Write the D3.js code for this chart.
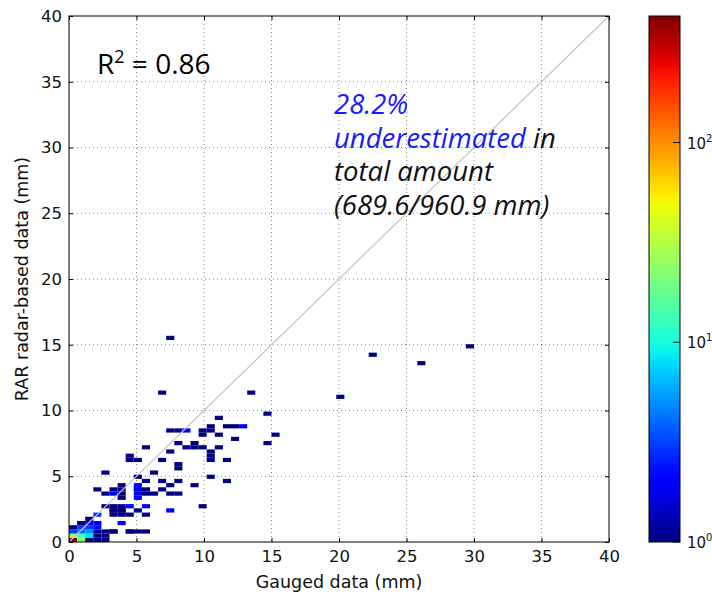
<!DOCTYPE html>
<html><head><meta charset="utf-8">
<script src="https://cdn.jsdelivr.net/npm/d3@7"></script>
<style>body{margin:0;background:#fff}</style>
</head><body>
<script>
// ---- data ----
const xTicks = [0,5,10,15,20,25,30,35,40];
const yTicks = [0,5,10,15,20,25,30,35,40];
const cbarTicks = [1,10,100];
const binW = 0.6, binH = 0.32;   // histogram bin size (mm)
const countMax = 430;
// cells: [gauged mm, radar mm, count]
const cells = [
 [0.3,0.15,430],[0.9,0.15,22],[1.5,0.15,1],[2.1,0.15,1],
 [0.3,0.45,25],[0.9,0.45,14],[1.5,0.45,8],[2.1,0.45,1],
 [0.3,0.8,3],[0.9,0.8,4],[1.5,0.8,5],[2.1,0.8,1],
 [0.3,1.1,1],[0.9,1.1,3],[1.5,1.1,3],[2.1,1.1,2],
 [0.9,1.4,1],[1.5,1.4,2],[2.1,1.4,2],
 [1.5,1.7,1],[2.1,1.95,3],
 [2.7,0.8,1],[2.7,0.45,1],[2.7,0.15,1],
 [3.3,0.95,1],[3.3,0.65,1],[3.9,1.3,2],
 [4.5,0.95,1],[5.1,0.95,1],[4.5,0.65,1],[5.7,0.65,1],
 [3.3,1.95,1],[3.9,1.95,1],[4.5,1.95,1],[5.7,1.95,1],
 [3.3,2.25,1],[3.9,2.25,1],[7.5,2.25,2],
 [3.3,2.55,1],[3.9,2.55,1],[5.1,2.55,1],
 [2.7,2.85,1],[3.3,2.85,1],[3.9,2.85,1],[4.5,2.85,2],[5.7,2.85,2],[9.8,2.85,1],
 [3.9,3.2,1],[5.1,3.2,2],
 [2.7,3.55,1],[3.3,3.55,2],[3.9,3.55,1],[5.1,3.55,2],[5.7,3.55,1],[6.3,3.55,1],[7.5,3.55,1],[8.1,3.55,1],
 [2.1,3.85,1],[3.3,3.85,1],[3.9,3.85,1],[5.1,3.85,2],[6.9,3.85,1],
 [5.1,4.15,2],[5.7,4.15,1],
 [3.9,4.45,1],[5.1,4.45,2],[7.5,4.45,1],[9.3,4.45,1],
 [5.7,4.75,1],[6.9,4.75,1],[8.1,4.75,1],[11.7,4.75,1],
 [5.1,5.05,1],[10.5,5.05,1],
 [2.7,5.4,1],[6.3,5.4,1],
 [8.1,5.6,1],[8.1,5.9,1],
 [6.9,6.1,1],[10.5,6.1,1],[11.7,6.1,1],
 [4.5,6.25,1],[5.1,6.25,1],[10.5,6.4,1],[4.5,6.55,1],[10.5,6.75,1],
 [7.5,6.9,1],[5.7,7.05,1],[9.3,7.05,1],
 [8.7,7.35,1],[9.8,7.35,1],[11.1,7.35,1],
 [8.1,7.65,1],[9.3,7.65,1],[14.5,7.65,1],
 [12.2,7.95,1],
 [9.8,8.25,1],[11.1,8.25,1],[15.1,8.25,1],
 [7.5,8.55,1],[8.1,8.55,1],[8.7,8.55,2],[9.8,8.55,1],[10.4,8.55,1],
 [10.4,8.85,1],[11.7,8.85,1],[12.3,8.85,1],[12.9,8.85,2],
 [11.05,9.55,1],[14.5,9.85,1],
 [6.9,11.45,1],[13.4,11.45,1],[19.9,10.9,1],
 [25.8,13.5,1],[22.2,14.1,1],[29.4,14.75,1],[7.5,15.65,1]
];
const r2Text = "0.86";
const noteLines = [["28.2%", null],["underestimated", " in"],[null,"total amount"],[null,"(689.6/960.9 mm)"]];

// ---- layout ----
const W = 712, H = 595;
const m = {l:69, r:609, t:16, b:542};
const svg = d3.select("body").append("svg").attr("width",W).attr("height",H)
  .style("font-family","'DejaVu Sans', sans-serif");

const x = d3.scaleLinear().domain([0,40]).range([m.l,m.r]);
const y = d3.scaleLinear().domain([0,40]).range([m.b,m.t]);

// jet colormap
const jr = d3.scaleLinear().domain([0,0.35,0.66,0.89,1]).range([0,0,1,1,0.5]).clamp(true);
const jg = d3.scaleLinear().domain([0,0.125,0.375,0.64,0.91,1]).range([0,0,1,1,0,0]).clamp(true);
const jb = d3.scaleLinear().domain([0,0.11,0.34,0.65,1]).range([0.5,1,1,0,0]).clamp(true);
const jet = t => d3.rgb(jr(t)*255, jg(t)*255, jb(t)*255).toString();
const norm = d3.scaleLog().domain([1,countMax]).range([0,1]).clamp(true);

// grid
const g = svg.append("g");
g.selectAll(".gx").data(xTicks.slice(1,-1)).enter().append("line")
  .attr("x1",d=>x(d)).attr("x2",d=>x(d)).attr("y1",m.t).attr("y2",m.b)
  .attr("stroke","#000").attr("stroke-width",0.6).attr("stroke-dasharray","1,3").attr("opacity",0.8);
g.selectAll(".gy").data(yTicks.slice(1,-1)).enter().append("line")
  .attr("y1",d=>y(d)).attr("y2",d=>y(d)).attr("x1",m.l).attr("x2",m.r)
  .attr("stroke","#000").attr("stroke-width",0.6).attr("stroke-dasharray","1,3").attr("opacity",0.8);

// cells
svg.append("g").selectAll("rect").data(cells).enter().append("rect")
  .attr("x",d=>x(Math.floor(d[0]/binW)*binW))
  .attr("y",d=>y((Math.floor(d[1]/binH)+1)*binH))
  .attr("width",d=>x(binW)-x(0))
  .attr("height",d=>y(0)-y(binH))
  .attr("fill",d=>jet(norm(d[2])));

// 1:1 line
svg.append("line").attr("x1",x(0)).attr("y1",y(0)).attr("x2",x(40)).attr("y2",y(40))
  .attr("stroke","#c4c4c4").attr("stroke-width",1.2);

// frame
svg.append("rect").attr("x",m.l).attr("y",m.t).attr("width",m.r-m.l).attr("height",m.b-m.t)
  .attr("fill","none").attr("stroke","#000").attr("stroke-width",1);

// ticks (inward, all sides)
const axB = d3.axisBottom(x).tickValues(xTicks).tickSize(-4).tickPadding(8).tickFormat(d3.format("d"));
const axL = d3.axisLeft(y).tickValues(yTicks).tickSize(-4).tickPadding(7).tickFormat(d3.format("d"));
const axT = d3.axisTop(x).tickValues(xTicks).tickSize(-4).tickFormat("");
const axR = d3.axisRight(y).tickValues(yTicks).tickSize(-4).tickFormat("");
function style(sel){ sel.select(".domain").remove(); sel.selectAll("text").attr("font-size",16.5).attr("fill","#111").attr("font-family","'DejaVu Sans', sans-serif"); }
svg.append("g").attr("transform",`translate(0,${m.b})`).call(axB).call(style);
svg.append("g").attr("transform",`translate(${m.l},0)`).call(axL).call(style);
svg.append("g").attr("transform",`translate(0,${m.t})`).call(axT).call(style);
svg.append("g").attr("transform",`translate(${m.r},0)`).call(axR).call(style);

// axis labels
svg.append("text").attr("x",(m.l+m.r)/2).attr("y",588).attr("text-anchor","middle")
  .attr("font-size",17.5).attr("fill","#111").text("Gauged data (mm)");
svg.append("text").attr("transform",`translate(28,${(m.t+m.b)/2}) rotate(-90)`).attr("text-anchor","middle")
  .attr("font-size",17.5).attr("fill","#111").text("RAR radar-based data (mm)");

// R2 label
const rt = svg.append("text").attr("x",97).attr("y",74).attr("font-size",28)
  .attr("font-family","'Open Sans', sans-serif").attr("fill","#000");
rt.append("tspan").text("R");
rt.append("tspan").attr("dy",-11).attr("font-size",18).text("2");
rt.append("tspan").attr("dy",11).text(" = " + r2Text);

// note
const nt = svg.append("g").attr("font-family","'Open Sans', sans-serif").attr("font-style","italic").attr("font-size",27.5).attr("font-weight",400);
noteLines.forEach((ln,i)=>{
  const t = nt.append("text").attr("x",334).attr("y",114+i*33.5);
  if(ln[0]) t.append("tspan").attr("fill","#1a1aff").text(ln[0]);
  if(ln[1]) t.append("tspan").attr("fill","#111").text(ln[1]);
});

// colorbar
const cb = {l:649, r:680, t:16, b:542};
const defs = svg.append("defs");
const grad = defs.append("linearGradient").attr("id","jet").attr("x1",0).attr("y1",1).attr("x2",0).attr("y2",0);
d3.range(0,1.0001,0.02).forEach(t=>grad.append("stop").attr("offset",t).attr("stop-color",jet(t)));
svg.append("rect").attr("x",cb.l).attr("y",cb.t).attr("width",cb.r-cb.l).attr("height",cb.b-cb.t)
  .attr("fill","url(#jet)").attr("stroke","#000").attr("stroke-width",1);
const cy = d3.scaleLog().domain([1,countMax]).range([cb.b,cb.t]);
const cbg = svg.append("g");
cbg.selectAll("line").data(cbarTicks).enter().append("line")
  .attr("x1",cb.r-7).attr("x2",cb.r).attr("y1",d=>cy(d)).attr("y2",d=>cy(d)).attr("stroke","#000").attr("stroke-width",1);
cbarTicks.forEach(d=>{
  const t = cbg.append("text").attr("x",cb.r+7).attr("y",cy(d)+6).attr("font-size",15).attr("fill","#111");
  t.append("tspan").text("10");
  t.append("tspan").attr("dy",-7).attr("font-size",10).text(String(Math.round(Math.log10(d))));
});
</script>
</body></html>
